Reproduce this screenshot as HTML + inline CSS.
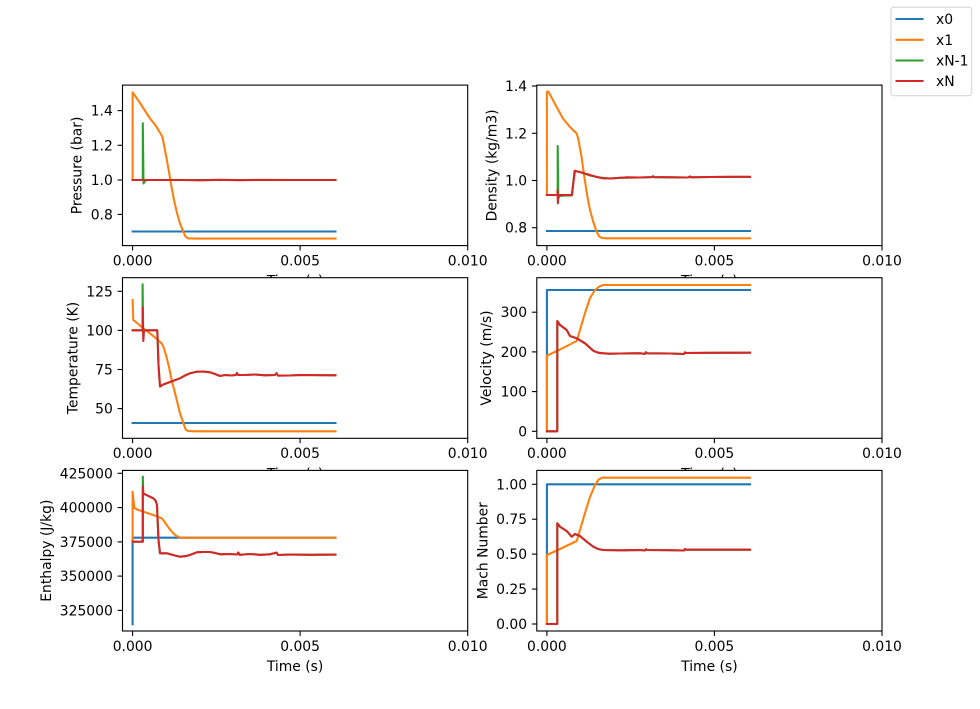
<!DOCTYPE html>
<html><head><meta charset="utf-8"><style>
html,body{margin:0;padding:0;background:#fff;}
svg{display:block;}
text{font-family:"DejaVu Sans","Liberation Sans",sans-serif;font-size:13.9px;fill:#000;}
.sp{fill:none;stroke:#000;stroke-width:1.1;}
.tk{stroke:#000;stroke-width:1.1;}
.l{fill:none;stroke-width:2.08;stroke-linejoin:round;stroke-linecap:square;}
.b{stroke:#1f77b4;}.o{stroke:#ff7f0e;}.g{stroke:#2ca02c;}.r{stroke:#d62728;}
.yt{text-anchor:end;}
.xt{text-anchor:middle;}
</style></head><body>
<svg width="980" height="709" viewBox="0 0 980 709" xmlns="http://www.w3.org/2000/svg">
<rect x="0" y="0" width="980" height="709" fill="#fff"/>

<!-- Panel 1: Pressure -->
<g>
<rect x="122.5" y="85.1" width="345.2" height="160.5" fill="#fff"/>
<path class="l b" d="M132.6,231.5 H335.5"/>
<path class="l o" d="M132.6,180 V92.3 L140,103 L150,118.5 L156,126 L162.3,136.5 L165,150 L168.3,168 L171,184 L174,200 L177,213 L180,223.5 L183,231 L185.5,236.5 L188,238.3 L195,238.6 H335.5"/>
<path class="l g" d="M132.6,180 H142.8 V123.3 L143.5,183.5 L145,181 L147,180 H335.5"/>
<path class="l r" d="M132.6,180 H180 L200,180.3 L220,179.8 L240,180.2 L260,179.9 L300,180 H335.5"/>
<rect class="sp" x="122.5" y="85.1" width="345.2" height="160.5"/>
<g class="tk">
<line x1="132.6" y1="245.6" x2="132.6" y2="250.5"/><line x1="300.1" y1="245.6" x2="300.1" y2="250.5"/><line x1="467.7" y1="245.6" x2="467.7" y2="250.5"/>
<line x1="122.5" y1="110.6" x2="117.6" y2="110.6"/><line x1="122.5" y1="145.3" x2="117.6" y2="145.3"/><line x1="122.5" y1="180" x2="117.6" y2="180"/><line x1="122.5" y1="214.4" x2="117.6" y2="214.4"/>
</g>
<text class="xt" x="132.6" y="265.5">0.000</text><text class="xt" x="300.1" y="265.5">0.005</text><text class="xt" x="467.7" y="265.5">0.010</text>
<text class="yt" x="112.8" y="115.6">1.4</text><text class="yt" x="112.8" y="150.3">1.2</text><text class="yt" x="112.8" y="185">1.0</text><text class="yt" x="112.8" y="219.4">0.8</text>
<text class="xt" x="295.1" y="285.6">Time (s)</text>
<text class="xt" transform="translate(81.5,165.4) rotate(-90)">Pressure (bar)</text>
</g>

<!-- Panel 2: Density -->
<g>
<rect x="536.8" y="85.1" width="345.2" height="160.5" fill="#fff"/>
<path class="l b" d="M546.9,231 H750"/>
<path class="l o" d="M546.9,195 V91.7 L548.5,91.7 L555,104 L563.3,119 L570,127 L576.7,133.5 L578.5,140 L581.7,158 L584.5,178 L587.3,196 L590,210 L593.3,222 L596.5,231.5 L599.3,236.5 L602,238 L606,238.3 H750"/>
<path class="l g" d="M546.9,195 H557.7 V146 L558.3,198 L560,196 L565,195.5 H572 L574.5,171 L580,172 L590,175.5 L600,177.5 L610,178.5 L620,177.8 L640,177.5 L652,177.2 L653,176.3 L654,177.3 L670,177.3 L688,177.5 L690,176.5 L691,177.3 L710,177 L730,176.9 L750,176.9"/>
<path class="l r" d="M546.9,195 H557.5 V190 L557.9,203.3 L558.3,195 H571.7 L575,170.7 L586.7,174 L596.7,177 L603,178.3 L610,178.5 L618,178 L626.7,177.3 L640,177.5 L652,177 L653,176.2 L654,177 L670,177.3 L688,177.5 L690,176.4 L691,177.3 L710,177 L730,176.8 L750,176.8"/>
<rect class="sp" x="536.8" y="85.1" width="345.2" height="160.5"/>
<g class="tk">
<line x1="546.9" y1="245.6" x2="546.9" y2="250.5"/><line x1="714.4" y1="245.6" x2="714.4" y2="250.5"/><line x1="882" y1="245.6" x2="882" y2="250.5"/>
<line x1="536.8" y1="86" x2="531.9" y2="86"/><line x1="536.8" y1="133.3" x2="531.9" y2="133.3"/><line x1="536.8" y1="180.5" x2="531.9" y2="180.5"/><line x1="536.8" y1="227.7" x2="531.9" y2="227.7"/>
</g>
<text class="xt" x="546.9" y="265.5">0.000</text><text class="xt" x="714.4" y="265.5">0.005</text><text class="xt" x="882" y="265.5">0.010</text>
<text class="yt" x="527.1" y="91">1.4</text><text class="yt" x="527.1" y="138.3">1.2</text><text class="yt" x="527.1" y="185.5">1.0</text><text class="yt" x="527.1" y="232.7">0.8</text>
<text class="xt" x="709.4" y="285.6">Time (s)</text>
<text class="xt" transform="translate(496.5,165.4) rotate(-90)">Density (kg/m3)</text>
</g>

<!-- Panel 3: Temperature -->
<g>
<rect x="122.5" y="277.7" width="345.2" height="160.6" fill="#fff"/>
<path class="l b" d="M132.6,423 H335.5"/>
<path class="l o" d="M132.6,300 L133.3,320 L137,323 L143.3,328.3 L153.3,336 L161.7,343.3 L163.5,347 L166,355 L169,367 L171.7,380 L175,393 L178,405 L180,413.3 L183,422 L185.7,429.5 L188,431 L195,431.3 H335.5"/>
<path class="l g" d="M132.6,330.3 H142.6 V284.3 L143.2,331 L144,330.3 H157.3 L158.5,365 L160,386.7 L163.3,384.5 L170,382 L180,378.3 L185,375.5 L190,373.3 L196.7,371.7 L203,371.5 L210,372.3 L215,374 L220,376 L225,375 L232,375.5 L236,374.8 L237,373 L238,375 L245,375 L255,374.5 L265,375.3 L275,375 L276.5,373.2 L278,375.6 L290,375.5 L300,375 L335.5,375.3"/>
<path class="l r" d="M132.6,330.3 H142.6 V307.7 L143.3,341 L144,330.3 H157.3 L158.5,365 L160,386.3 L163.3,384.5 L170,382 L180,378.3 L185,375.5 L190,373.3 L196.7,371.7 L203,371.5 L210,372.3 L215,374 L220,376 L225,375 L232,375.5 L236,374.8 L237,373 L238,375 L245,375 L255,374.5 L265,375.3 L275,375 L276.5,373.2 L278,375.6 L290,375.5 L300,375 L335.5,375.3"/>
<rect class="sp" x="122.5" y="277.7" width="345.2" height="160.6"/>
<g class="tk">
<line x1="132.6" y1="438.3" x2="132.6" y2="443.2"/><line x1="300.1" y1="438.3" x2="300.1" y2="443.2"/><line x1="467.7" y1="438.3" x2="467.7" y2="443.2"/>
<line x1="122.5" y1="291.3" x2="117.6" y2="291.3"/><line x1="122.5" y1="330.4" x2="117.6" y2="330.4"/><line x1="122.5" y1="369.5" x2="117.6" y2="369.5"/><line x1="122.5" y1="408.6" x2="117.6" y2="408.6"/>
</g>
<text class="xt" x="132.6" y="458.2">0.000</text><text class="xt" x="300.1" y="458.2">0.005</text><text class="xt" x="467.7" y="458.2">0.010</text>
<text class="yt" x="112.8" y="296.3">125</text><text class="yt" x="112.8" y="335.4">100</text><text class="yt" x="112.8" y="374.5">75</text><text class="yt" x="112.8" y="413.6">50</text>
<text class="xt" x="295.1" y="478.3">Time (s)</text>
<text class="xt" transform="translate(77.4,358) rotate(-90)">Temperature (K)</text>
</g>

<!-- Panel 4: Velocity -->
<g>
<rect x="536.8" y="277.7" width="345.2" height="160.6" fill="#fff"/>
<path class="l b" d="M546.9,431.3 V290 H750"/>
<path class="l o" d="M546.9,431.3 V355.7 L560,349.5 L576.7,341 L580,330 L585,313 L590,298 L595,290 L599.3,286.5 L603.3,285 H750"/>
<path class="l g" d="M546.9,431.3 H557.3 V321 L560,325 L566.7,330 L570,336 L576.7,338.3 L585,343.3 L593.3,350.7 L598,352.7 L603.3,353.3 L610,353.7 L620,353.5 L640,353.3 L645,353.8 L646,352.2 L647,353.3 L670,353.5 L684,354 L685,352.3 L686,353 L710,352.8 L750,352.7"/>
<path class="l r" d="M546.9,431.3 H557.3 V321 L560,325 L566.7,330 L570,336 L576.7,338.3 L585,343.3 L593.3,350.7 L598,352.7 L603.3,353.3 L610,353.7 L620,353.5 L640,353.3 L645,353.8 L646,352.2 L647,353.3 L670,353.5 L684,354 L685,352.3 L686,353 L710,352.8 L750,352.7"/>
<rect class="sp" x="536.8" y="277.7" width="345.2" height="160.6"/>
<g class="tk">
<line x1="546.9" y1="438.3" x2="546.9" y2="443.2"/><line x1="714.4" y1="438.3" x2="714.4" y2="443.2"/><line x1="882" y1="438.3" x2="882" y2="443.2"/>
<line x1="536.8" y1="312.2" x2="531.9" y2="312.2"/><line x1="536.8" y1="351.9" x2="531.9" y2="351.9"/><line x1="536.8" y1="391.6" x2="531.9" y2="391.6"/><line x1="536.8" y1="431.3" x2="531.9" y2="431.3"/>
</g>
<text class="xt" x="546.9" y="458.2">0.000</text><text class="xt" x="714.4" y="458.2">0.005</text><text class="xt" x="882" y="458.2">0.010</text>
<text class="yt" x="527.1" y="317.2">300</text><text class="yt" x="527.1" y="356.9">200</text><text class="yt" x="527.1" y="396.6">100</text><text class="yt" x="527.1" y="436.3">0</text>
<text class="xt" x="709.4" y="478.3">Time (s)</text>
<text class="xt" transform="translate(491,358) rotate(-90)">Velocity (m/s)</text>
</g>

<!-- Panel 5: Enthalpy -->
<g>
<rect x="122.5" y="470.4" width="345.2" height="160.6" fill="#fff"/>
<path class="l b" d="M132.6,624.3 V537.7 H335.5"/>
<path class="l o" d="M132.6,541.7 V491.7 L134.3,507.7 L137,509.5 L143.3,511.7 L153.3,515 L161.7,518.3 L164,521 L166.7,525 L170,529.5 L173.3,533.3 L176.5,536 L180,537.5 L186,537.8 H335.5"/>
<path class="l g" d="M132.6,541.7 H142.8 V476.7 L143.3,493.3 L145,494.3 L153.3,498.3 L155.8,501 L157,505 L157.7,521.7 L158.5,540 L160,553.3 L166.7,553.3 L173,555 L180,556.7 L185,556.2 L190,555 L196.7,552.3 L203,552 L210,552 L215,553 L220,554.3 L230,554 L237,554.5 L238.3,552.5 L239.5,554.8 L250,554 L260,554.8 L270,554.3 L276.7,552.6 L278,555 L290,554.5 L310,554.8 L335.5,554.6"/>
<path class="l r" d="M132.6,541.7 H142.8 V486.7 L143.3,493.3 L145,494.3 L153.3,498.3 L155.8,501 L157,505 L157.7,521.7 L158.5,540 L160,553.3 L166.7,553.3 L173,555 L180,556.7 L185,556.2 L190,555 L196.7,552.3 L203,552 L210,552 L215,553 L220,554.3 L230,554 L237,554.5 L238.3,552.5 L239.5,554.8 L250,554 L260,554.8 L270,554.3 L276.7,552.6 L278,555 L290,554.5 L310,554.8 L335.5,554.6"/>
<rect class="sp" x="122.5" y="470.4" width="345.2" height="160.6"/>
<g class="tk">
<line x1="132.6" y1="631" x2="132.6" y2="635.9"/><line x1="300.1" y1="631" x2="300.1" y2="635.9"/><line x1="467.7" y1="631" x2="467.7" y2="635.9"/>
<line x1="122.5" y1="473.3" x2="117.6" y2="473.3"/><line x1="122.5" y1="507.6" x2="117.6" y2="507.6"/><line x1="122.5" y1="541.9" x2="117.6" y2="541.9"/><line x1="122.5" y1="576.1" x2="117.6" y2="576.1"/><line x1="122.5" y1="610.4" x2="117.6" y2="610.4"/>
</g>
<text class="xt" x="132.6" y="651">0.000</text><text class="xt" x="300.1" y="651">0.005</text><text class="xt" x="467.7" y="651">0.010</text>
<text class="yt" x="112.8" y="478.3">425000</text><text class="yt" x="112.8" y="512.6">400000</text><text class="yt" x="112.8" y="546.9">375000</text><text class="yt" x="112.8" y="581.1">350000</text><text class="yt" x="112.8" y="615.4">325000</text>
<text class="xt" x="295.1" y="671">Time (s)</text>
<text class="xt" transform="translate(50.8,550.7) rotate(-90)">Enthalpy (J/kg)</text>
</g>

<!-- Panel 6: Mach -->
<g>
<rect x="536.8" y="470.4" width="345.2" height="160.6" fill="#fff"/>
<path class="l b" d="M546.9,624 V484.3 H750"/>
<path class="l o" d="M546.9,624 V555 L560,549 L576.7,541 L580,530 L585,513 L590,497 L595,485 L598.3,480 L601.7,477.7 H750"/>
<path class="l g" d="M546.9,624 H557.3 V523.3 L560,526.7 L566.7,531 L571.7,536.7 L575,534 L580,536 L586.7,541.7 L593.3,546.7 L598,549 L603.3,550 L620,550.3 L640,550 L645,550.5 L646,549.2 L647,550 L670,550.2 L684,550.5 L685,549 L686,549.7 L710,549.7 L750,549.7"/>
<path class="l r" d="M546.9,624 H557.3 V523.3 L560,526.7 L566.7,531 L571.7,536.7 L575,534 L580,536 L586.7,541.7 L593.3,546.7 L598,549 L603.3,550 L620,550.3 L640,550 L645,550.5 L646,549.2 L647,550 L670,550.2 L684,550.5 L685,549 L686,549.7 L710,549.7 L750,549.7"/>
<rect class="sp" x="536.8" y="470.4" width="345.2" height="160.6"/>
<g class="tk">
<line x1="546.9" y1="631" x2="546.9" y2="635.9"/><line x1="714.4" y1="631" x2="714.4" y2="635.9"/><line x1="882" y1="631" x2="882" y2="635.9"/>
<line x1="536.8" y1="484.3" x2="531.9" y2="484.3"/><line x1="536.8" y1="519.2" x2="531.9" y2="519.2"/><line x1="536.8" y1="554.1" x2="531.9" y2="554.1"/><line x1="536.8" y1="589.1" x2="531.9" y2="589.1"/><line x1="536.8" y1="624" x2="531.9" y2="624"/>
</g>
<text class="xt" x="546.9" y="651">0.000</text><text class="xt" x="714.4" y="651">0.005</text><text class="xt" x="882" y="651">0.010</text>
<text class="yt" x="527.1" y="489.3">1.00</text><text class="yt" x="527.1" y="524.2">0.75</text><text class="yt" x="527.1" y="559.1">0.50</text><text class="yt" x="527.1" y="594.1">0.25</text><text class="yt" x="527.1" y="629">0.00</text>
<text class="xt" x="709.4" y="671">Time (s)</text>
<text class="xt" transform="translate(487.6,550.7) rotate(-90)">Mach Number</text>
</g>

<!-- Legend -->
<g>
<rect x="891" y="7.2" width="80.7" height="88.5" rx="2.8" ry="2.8" fill="#fff" fill-opacity="0.8" stroke="#d6d6d6" stroke-width="1.1"/>
<line class="l b" x1="895.5" y1="19" x2="923.5" y2="19" style="stroke-linecap:butt"/>
<line class="l o" x1="895.5" y1="39.8" x2="923.5" y2="39.8" style="stroke-linecap:butt"/>
<line class="l g" x1="895.5" y1="60.5" x2="923.5" y2="60.5" style="stroke-linecap:butt"/>
<line class="l r" x1="895.5" y1="81" x2="923.5" y2="81" style="stroke-linecap:butt"/>
<text x="936" y="24">x0</text>
<text x="936" y="44.8">x1</text>
<text x="936" y="65.5">xN-1</text>
<text x="936" y="86">xN</text>
</g>
</svg>
</body></html>
